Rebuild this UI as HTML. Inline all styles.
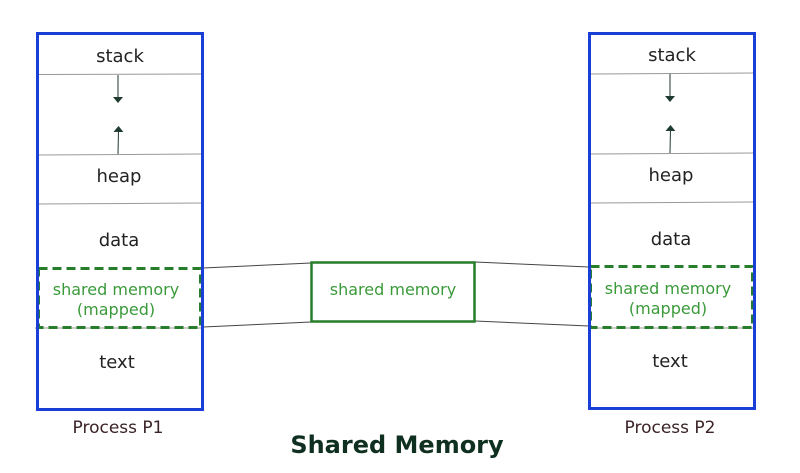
<!DOCTYPE html>
<html><head><meta charset="utf-8"><style>
html,body{margin:0;padding:0;background:#fff;}
svg{display:block;}
text{font-family:"DejaVu Sans","Liberation Sans",sans-serif;}
</style></head><body>
<svg width="800" height="473" viewBox="0 0 800 473" xmlns="http://www.w3.org/2000/svg">
<defs>
<marker id="ah" markerWidth="6" markerHeight="10" refX="3" refY="5" orient="auto-start-reverse" markerUnits="userSpaceOnUse">
<path d="M0,0 L10,5 L0,10 z" transform="scale(0.6,1)" fill="#1f3a2e"/>
</marker>
</defs>
<g stroke="#444" stroke-width="1" fill="none">
<line x1="203" y1="268" x2="311" y2="263"/>
<line x1="203" y1="327" x2="311" y2="322"/>
<line x1="475" y1="262" x2="589" y2="267"/>
<line x1="475" y1="321" x2="589" y2="326"/>
</g>
<g>
<g stroke="#999" stroke-width="1">
<line x1="38" y1="74.5" x2="202" y2="74"/>
<line x1="38" y1="155" x2="202" y2="154"/>
<line x1="38" y1="204" x2="202" y2="203"/>
<line x1="35" y1="328" x2="202" y2="328"/>
</g>
<line x1="118" y1="75" x2="118" y2="100" stroke="#1f3a2e" stroke-width="1" marker-end="url(#ah)"/>
<line x1="118" y1="154" x2="118.5" y2="129" stroke="#1f3a2e" stroke-width="1" marker-end="url(#ah)"/>
<rect x="38.5" y="268.5" width="162" height="59" fill="none" stroke="#267d2a" stroke-width="3" stroke-dasharray="9,5"/>
<rect x="37.5" y="33.5" width="165" height="376" fill="none" stroke="#1a3fd6" stroke-width="3"/>
<text x="120" y="62" font-size="18" text-anchor="middle" fill="#222">stack</text>
<text x="119" y="182" font-size="18" text-anchor="middle" fill="#222">heap</text>
<text x="119" y="246" font-size="18" text-anchor="middle" fill="#222">data</text>
<text x="116" y="295" font-size="16" text-anchor="middle" fill="#3a9a3a">shared memory</text>
<text x="116" y="315" font-size="16" text-anchor="middle" fill="#3a9a3a">(mapped)</text>
<text x="117" y="368" font-size="18" text-anchor="middle" fill="#222">text</text>
<text x="118" y="433" font-size="17" text-anchor="middle" fill="#3a2226">Process P1</text>
</g>
<g>
<g stroke="#999" stroke-width="1">
<line x1="590" y1="74" x2="754" y2="73"/>
<line x1="590" y1="154" x2="754" y2="153"/>
<line x1="590" y1="203" x2="754" y2="202"/>
<line x1="590" y1="328" x2="754" y2="328"/>
</g>
<line x1="670" y1="74" x2="670" y2="99" stroke="#1f3a2e" stroke-width="1" marker-end="url(#ah)"/>
<line x1="670" y1="153" x2="670.5" y2="128" stroke="#1f3a2e" stroke-width="1" marker-end="url(#ah)"/>
<rect x="590.5" y="266.5" width="162" height="61" fill="none" stroke="#267d2a" stroke-width="3" stroke-dasharray="9,5"/>
<rect x="589.5" y="33.5" width="165" height="375" fill="none" stroke="#1a3fd6" stroke-width="3"/>
<text x="672" y="61" font-size="18" text-anchor="middle" fill="#222">stack</text>
<text x="671" y="181" font-size="18" text-anchor="middle" fill="#222">heap</text>
<text x="671" y="245" font-size="18" text-anchor="middle" fill="#222">data</text>
<text x="668" y="294" font-size="16" text-anchor="middle" fill="#3a9a3a">shared memory</text>
<text x="668" y="314" font-size="16" text-anchor="middle" fill="#3a9a3a">(mapped)</text>
<text x="670" y="367" font-size="18" text-anchor="middle" fill="#222">text</text>
<text x="670" y="433" font-size="17" text-anchor="middle" fill="#3a2226">Process P2</text>
</g>
<rect x="311.5" y="262.5" width="163" height="59" fill="#fff" stroke="#267d2a" stroke-width="2.5"/>
<text x="393" y="295" font-size="16" text-anchor="middle" fill="#3a9a3a">shared memory</text>
<text x="397" y="453" font-size="24" font-weight="bold" text-anchor="middle" fill="#0f3020">Shared Memory</text>
</svg>
</body></html>
